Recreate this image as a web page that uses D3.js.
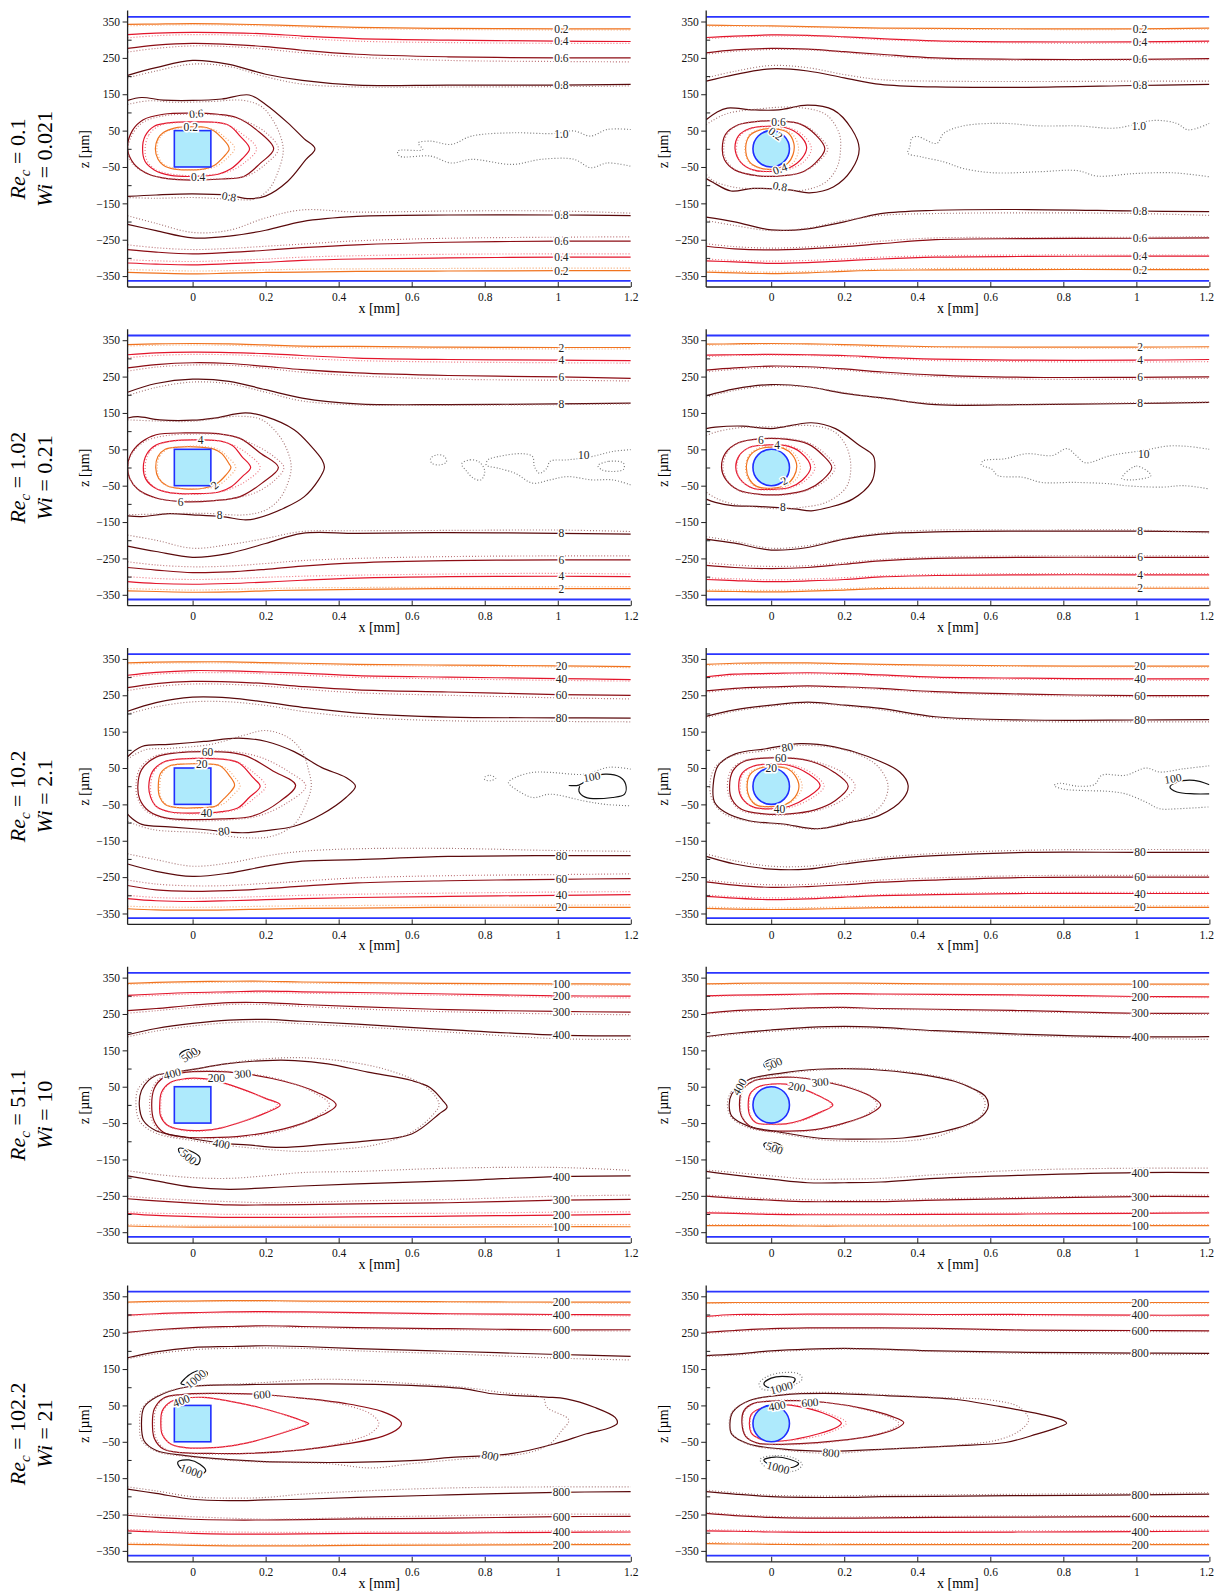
<!DOCTYPE html>
<html><head><meta charset="utf-8">
<script src="https://cdn.jsdelivr.net/npm/d3@7"></script>
<style>
body{margin:0;background:#fff}
text{font-family:"Liberation Serif","Times New Roman",serif}
</style></head>
<body><svg id="c" width="1215" height="1593"></svg>
<script>
// ---------- shared categories / ticks ----------
const xGrid = [-0.178,-0.1,0,0.1,0.2,0.3,0.45,0.7,1.0,1.2];
const xTicks = [0,0.2,0.4,0.6,0.8,1,1.2];
const zTicksLabeled = [350,250,150,50,-50,-150,-250,-350];
const zTicksMinor = [300,200,100,0,-100,-200,-300];
const rowRe = ["0.1","1.02","10.2","51.1","102.2"];
const rowWi = ["0.021","0.21","2.1","10","21"];
const rowLevels = [["0.2","0.4","0.6","0.8"],["2","4","6","8"],["20","40","60","80"],["100","200","300","400"],["200","400","600","800"]];
const wallZ = 363;
const obstacleHalf = [0.05, 50];
const colShape = ["square","circle"];

// ---------- Row 1, left (square) ----------
const r1L_top = [[342,343,344,343,341,338,334,331,330,330],[314,318,320,319,316,310,303,299,296,295],[276,285,290,287,281,271,260,253,250,250],[202,223,243,232,205,188,175,175,175,177]];
const r1L_topDot = [[338,340,341,340,338,335,331,328,327,327],[305,311,314,313,310,304,296,292,290,290],[266,276,283,281,274,264,252,243,240,239],[195,214,233,226,198,178,170,170,171,173]];
const r1L_bot = [[-340,-342,-344,-342,-340,-339,-337,-336,-335,-335],[-314,-317,-319,-316,-312,-307,-303,-300,-298,-298],[-277,-284,-289,-285,-279,-272,-264,-257,-254,-254],[-208,-225,-245,-240,-224,-200,-186,-182,-182,-184]];
const r1L_botDot = [[-332,-334,-336,-335,-333,-331,-330,-329,-328,-328],[-305,-308,-310,-307,-303,-298,-294,-290,-289,-289],[-264,-272,-277,-274,-268,-262,-253,-246,-243,-242],[-184,-205,-230,-224,-190,-168,-174,-171,-171,-177]];
const r1L_rings = [
 [1,1,[[-0.102,0],[-0.095,28],[-0.08,45],[-0.05,57],[0,61],[0.04,58],[0.06,48],[0.08,30],[0.098,8],[0.1,-2],[0.085,-22],[0.06,-45],[0.03,-56],[-0.01,-58],[-0.05,-56],[-0.08,-45],[-0.095,-28]]],
 [2,1,[[-0.137,0],[-0.13,35],[-0.105,62],[-0.06,72],[0,74],[0.06,73],[0.1,64],[0.13,35],[0.156,0],[0.135,-28],[0.105,-55],[0.07,-70],[0,-76],[-0.06,-73],[-0.105,-58],[-0.13,-35]]],
 [3,1,[[-0.178,0],[-0.165,50],[-0.135,80],[-0.08,95],[0,98],[0.07,95],[0.12,86],[0.175,52],[0.222,0],[0.185,-40],[0.14,-76],[0.08,-83],[0,-86],[-0.07,-82],[-0.12,-70],[-0.16,-42]]],
 [4,0,[[-0.178,133],[-0.14,141],[-0.08,134],[0,133],[0.08,137],[0.155,148],[0.2,122],[0.26,72],[0.305,28],[0.335,0],[0.31,-30],[0.26,-90],[0.2,-130],[0.155,-137],[0.1,-128],[0,-124],[-0.1,-127],[-0.178,-131]]]
];
const r1L_ringsDot = [
 [1,1,[[-0.098,0],[-0.09,30],[-0.07,48],[-0.03,58],[0.02,59],[0.06,52],[0.09,30],[0.115,2],[0.09,-30],[0.06,-50],[0.02,-57],[-0.04,-56],[-0.08,-42],[-0.093,-22]]],
 [2,1,[[-0.13,0],[-0.12,38],[-0.09,64],[-0.04,72],[0.03,73],[0.09,68],[0.13,45],[0.175,0],[0.14,-40],[0.1,-62],[0.04,-72],[-0.04,-72],[-0.1,-58],[-0.125,-32]]],
 [3,1,[[-0.178,-5],[-0.16,48],[-0.13,76],[-0.07,92],[0,95],[0.08,92],[0.14,78],[0.2,45],[0.235,0],[0.2,-42],[0.15,-74],[0.08,-82],[0,-84],[-0.08,-80],[-0.13,-66],[-0.165,-40]]],
 [4,0,[[-0.178,122],[-0.12,132],[-0.05,128],[0.05,130],[0.14,133],[0.19,115],[0.225,70],[0.245,20],[0.248,-10],[0.235,-60],[0.21,-110],[0.17,-138],[0.1,-138],[0,-134],[-0.1,-136],[-0.178,-134]]],
 [5,0,[[1.2,53],[1.135,53],[1.09,35],[1.045,49],[0.99,42],[0.876,44],[0.764,35],[0.708,12],[0.652,21],[0.618,16],[0.63,-2],[0.562,-6],[0.567,-20],[0.652,-20],[0.708,-39],[0.764,-29],[0.876,-43],[0.955,-29],[1.045,-29],[1.09,-52],[1.135,-39],[1.2,-48]]]
];
const r1L_labels = [[0.01,97,"0.6",-5],[-0.005,61,"0.2",0],[0.015,-77,"0.4",0],[0.1,-131,"0.8",10],[1.01,42,"1.0",0]];

// ---------- Row 1, right (circle) ----------
const r1R_top = [[340,339,338,336,334,332,331,330,330,332],[306,310,313,312,308,303,297,294,294,296],[264,272,276,274,267,260,250,246,246,248],[186,204,220,214,195,177,170,169,174,177]];
const r1R_topDot = [[337,337,336,334,332,330,329,328,328,329],[303,307,310,310,306,300,295,291,291,292],[260,268,273,272,265,256,247,243,244,245],[195,213,229,223,204,190,186,185,186,186]];
const r1R_bot = [[-339,-341,-343,-341,-337,-334,-333,-332,-332,-332],[-308,-311,-315,-313,-308,-303,-298,-296,-295,-295],[-268,-275,-278,-275,-269,-261,-250,-247,-246,-245],[-188,-201,-223,-220,-201,-178,-169,-167,-171,-173]];
const r1R_botDot = [[-335,-337,-339,-337,-334,-331,-329,-329,-329,-329],[-303,-307,-309,-307,-303,-298,-294,-292,-292,-292],[-261,-269,-273,-270,-263,-254,-245,-244,-243,-242],[-197,-211,-225,-218,-197,-183,-178,-176,-178,-183]];
const r1R_rings = [
 [1,1,[[-0.07,0],[-0.06,35],[-0.03,52],[0.01,55],[0.045,45],[0.062,15],[0.06,-15],[0.045,-40],[0.01,-55],[-0.03,-53],[-0.06,-35]]],
 [2,1,[[-0.099,0],[-0.09,35],[-0.06,55],[-0.01,62],[0.04,58],[0.075,40],[0.097,5],[0.085,-25],[0.05,-52],[0,-62],[-0.05,-58],[-0.085,-35]]],
 [3,1,[[-0.134,0],[-0.125,40],[-0.09,66],[-0.03,76],[0.03,76],[0.08,68],[0.12,40],[0.147,0],[0.12,-40],[0.08,-66],[0.02,-75],[-0.04,-74],[-0.1,-58],[-0.128,-30]]],
 [4,0,[[-0.178,80],[-0.15,100],[-0.12,112],[-0.05,107],[0.02,107],[0.1,120],[0.17,107],[0.22,55],[0.241,0],[0.22,-58],[0.17,-105],[0.105,-121],[0.05,-113],[-0.05,-109],[-0.11,-116],[-0.16,-92],[-0.178,-82]]]
];
const r1R_ringsDot = [
 [1,1,[[-0.072,0],[-0.06,38],[-0.02,56],[0.03,54],[0.06,38],[0.075,0],[0.06,-38],[0.02,-56],[-0.03,-54],[-0.06,-38]]],
 [2,1,[[-0.095,0],[-0.085,36],[-0.05,57],[0,62],[0.05,57],[0.09,35],[0.11,0],[0.09,-35],[0.05,-56],[0,-63],[-0.05,-58],[-0.085,-35]]],
 [3,1,[[-0.13,0],[-0.12,42],[-0.085,67],[-0.02,77],[0.05,75],[0.1,60],[0.135,30],[0.155,0],[0.13,-35],[0.09,-62],[0.03,-74],[-0.04,-74],[-0.1,-56],[-0.125,-28]]],
 [4,0,[[-0.178,66],[-0.16,78],[-0.12,97],[-0.05,108],[0.07,114],[0.15,94],[0.186,43],[0.19,0],[0.181,-49],[0.15,-91],[0.087,-114],[0,-110],[-0.1,-106],[-0.16,-87],[-0.178,-70]]],
 [5,0,[[1.2,70],[1.142,52],[1.11,70],[1.048,78],[0.944,57],[0.839,63],[0.735,63],[0.63,70],[0.526,63],[0.473,43],[0.453,15],[0.4,34],[0.385,29],[0.38,6],[0.374,-12],[0.41,-22],[0.473,-36],[0.526,-54],[0.609,-66],[0.735,-63],[0.839,-60],[0.892,-75],[0.996,-68],[1.1,-66],[1.2,-77]]]
];
const r1R_labels = [[0.02,75,"0.6",0],[0.012,42,"0.2",35],[0.024,-55,"0.4",-20],[0.024,-103,"0.8",10],[1.007,63,"1.0",0]];

// ---------- Row 2, left ----------
const r2L_top = [[338,340,341,340,337,334,333,331,330,330],[310,315,317,316,313,308,301,297,295,294],[274,283,288,286,278,269,260,253,249,245],[207,231,243,237,214,191,175,173,175,177]];
const r2L_topDot = [[334,336,337,336,333,330,329,327,326,326],[302,308,311,310,306,300,294,290,288,287],[265,276,282,281,273,262,252,243,240,238],[198,220,235,230,207,183,172,171,173,175]];
const r2L_bot = [[-339,-341,-343,-342,-339,-337,-335,-333,-333,-333],[-314,-319,-321,-319,-315,-310,-304,-300,-299,-300],[-275,-282,-289,-287,-280,-271,-262,-256,-254,-254],[-216,-231,-247,-236,-209,-181,-181,-179,-181,-183]];
const r2L_botDot = [[-333,-335,-337,-335,-333,-331,-330,-329,-328,-328],[-300,-305,-308,-306,-302,-299,-296,-293,-291,-293],[-259,-268,-273,-271,-264,-256,-250,-245,-243,-243],[-186,-200,-222,-212,-195,-176,-174,-173,-172,-176]];
const r2L_rings = [
 [1,1,[[-0.101,0],[-0.095,30],[-0.075,50],[-0.04,56],[0.02,56],[0.06,50],[0.08,38],[0.1,10],[0.105,0],[0.09,-22],[0.065,-45],[0.03,-57],[-0.03,-58],[-0.07,-50],[-0.093,-30]]],
 [2,1,[[-0.135,0],[-0.125,38],[-0.1,62],[-0.05,74],[0.02,76],[0.08,72],[0.11,60],[0.135,30],[0.159,0],[0.136,-25],[0.107,-52],[0.07,-68],[0,-72],[-0.06,-70],[-0.105,-55],[-0.128,-32]]],
 [3,1,[[-0.178,0],[-0.17,35],[-0.14,70],[-0.1,90],[-0.02,95],[0.07,93],[0.13,80],[0.185,40],[0.235,0],[0.19,-43],[0.13,-80],[0.06,-91],[-0.03,-94],[-0.1,-84],[-0.15,-60],[-0.172,-30]]],
 [4,0,[[-0.178,136],[-0.15,140],[-0.09,131],[0,130],[0.06,136],[0.145,150],[0.2,140],[0.278,104],[0.325,58],[0.355,20],[0.361,0],[0.345,-34],[0.306,-80],[0.25,-112],[0.175,-140],[0.145,-144],[0.08,-135],[0,-130],[-0.065,-127],[-0.14,-135],[-0.178,-133]]]
];
const r2L_ringsDot = [
 [1,1,[[-0.097,0],[-0.09,32],[-0.065,52],[-0.02,58],[0.03,58],[0.07,50],[0.095,30],[0.118,0],[0.095,-30],[0.065,-52],[0.02,-58],[-0.04,-57],[-0.08,-45],[-0.093,-25]]],
 [2,1,[[-0.13,0],[-0.12,40],[-0.09,64],[-0.03,75],[0.04,76],[0.1,66],[0.15,38],[0.185,0],[0.15,-35],[0.1,-60],[0.04,-72],[-0.04,-72],[-0.1,-57],[-0.125,-30]]],
 [3,1,[[-0.178,-5],[-0.165,40],[-0.13,72],[-0.07,88],[0.02,92],[0.1,88],[0.17,62],[0.225,28],[0.25,0],[0.225,-35],[0.17,-70],[0.09,-88],[0,-92],[-0.08,-88],[-0.14,-68],[-0.17,-35]]],
 [4,0,[[-0.178,131],[-0.1,128],[0,127],[0.126,141],[0.19,131],[0.235,90],[0.26,45],[0.27,0],[0.258,-50],[0.235,-90],[0.2,-117],[0.145,-130],[0.03,-126],[-0.1,-128],[-0.178,-130]]],
 [5,0,[[1.2,49],[1.15,44],[1.093,30],[1.027,21],[0.979,17],[0.97,-2],[0.95,-16],[0.936,3],[0.931,30],[0.903,38],[0.837,30],[0.809,21],[0.804,7],[0.837,-2],[0.884,-16],[0.931,-43],[0.979,-34],[1.027,-25],[1.093,-34],[1.15,-34],[1.2,-48]]],
 [5,1,[[0.652,25],[0.67,35],[0.69,30],[0.695,15],[0.675,7],[0.655,12]]],
 [5,1,[[0.737,10],[0.76,21],[0.785,15],[0.8,-10],[0.79,-34],[0.77,-30],[0.75,-10]]],
 [5,1,[[1.11,5],[1.14,17],[1.18,12],[1.18,-5],[1.15,-11],[1.12,-6]]]
];
const r2L_labels = [[0.022,77,"4",0],[0.06,-48,"2",-40],[-0.033,-94,"6",0],[0.074,-131,"8",0],[1.071,35,"10",0]];

// ---------- Row 2, right ----------
const r2R_top = [[339,340,341,340,338,335,332,331,331,332],[309,310,311,310,308,303,298,295,295,297],[268,274,279,277,271,263,254,248,248,249],[197,216,228,222,204,192,173,173,176,179]];
const r2R_topDot = [[336,338,339,338,335,332,330,329,328,329],[305,308,309,308,305,300,294,291,290,291],[263,270,275,274,268,259,250,243,243,245],[193,212,225,221,206,190,176,174,178,180]];
const r2R_bot = [[-340,-341,-342,-340,-337,-333,-332,-332,-332,-332],[-308,-311,-314,-312,-308,-301,-297,-295,-295,-295],[-269,-275,-278,-275,-266,-257,-250,-247,-247,-247],[-197,-208,-227,-220,-197,-183,-177,-175,-175,-177]];
const r2R_botDot = [[-336,-337,-338,-336,-333,-330,-329,-329,-329,-329],[-303,-306,-309,-307,-303,-298,-294,-292,-292,-292],[-262,-268,-272,-270,-262,-253,-246,-243,-243,-243],[-190,-203,-222,-215,-195,-180,-172,-172,-172,-180]];
const r2R_rings = [
 [1,1,[[-0.068,0],[-0.06,30],[-0.035,50],[0,56],[0.035,52],[0.058,35],[0.07,5],[0.062,-25],[0.04,-48],[0,-57],[-0.04,-52],[-0.06,-32]]],
 [2,1,[[-0.097,0],[-0.088,32],[-0.06,55],[-0.01,62],[0.04,60],[0.08,42],[0.108,0],[0.085,-35],[0.05,-55],[0,-60],[-0.05,-57],[-0.085,-32]]],
 [3,1,[[-0.136,0],[-0.125,40],[-0.09,68],[-0.03,79],[0.04,78],[0.1,65],[0.14,35],[0.166,0],[0.14,-35],[0.1,-60],[0.04,-73],[-0.03,-74],[-0.09,-62],[-0.125,-32]]],
 [4,0,[[-0.178,107],[-0.153,111],[-0.078,114],[0,107],[0.11,123],[0.176,107],[0.241,61],[0.279,33],[0.284,0],[0.274,-41],[0.223,-87],[0.157,-110],[0.11,-119],[0.063,-114],[-0.04,-107],[-0.106,-105],[-0.153,-96],[-0.178,-87]]]
];
const r2R_ringsDot = [
 [1,1,[[-0.07,0],[-0.06,35],[-0.03,55],[0.01,58],[0.05,50],[0.07,28],[0.08,0],[0.07,-30],[0.04,-52],[0,-58],[-0.04,-54],[-0.063,-32]]],
 [2,1,[[-0.094,0],[-0.085,35],[-0.055,57],[0,63],[0.05,60],[0.095,38],[0.12,0],[0.095,-35],[0.05,-57],[0,-62],[-0.05,-58],[-0.085,-33]]],
 [3,1,[[-0.132,0],[-0.12,42],[-0.085,69],[-0.02,80],[0.05,79],[0.11,64],[0.15,35],[0.175,0],[0.15,-35],[0.1,-62],[0.04,-75],[-0.03,-75],[-0.09,-63],[-0.122,-33]]],
 [4,0,[[-0.178,88],[-0.15,98],[-0.08,110],[0.02,112],[0.11,115],[0.17,100],[0.205,60],[0.218,0],[0.205,-55],[0.15,-96],[0.08,-110],[0.035,-114],[-0.05,-108],[-0.106,-100],[-0.15,-85],[-0.178,-68]]],
 [5,0,[[1.2,50],[1.14,58],[1.086,59],[1.02,47],[0.93,33],[0.86,13],[0.835,33],[0.81,52],[0.77,33],[0.7,38],[0.64,24],[0.58,18],[0.575,8],[0.605,-5],[0.62,-22],[0.69,-27],[0.74,-41],[0.83,-41],[0.93,-45],[0.97,-50],[1.07,-54],[1.13,-50],[1.2,-59]]],
 [5,1,[[0.96,-30],[1.0,4],[1.04,-22],[0.99,-34]]]
];
const r2R_labels = [[-0.028,77,"6",0],[0.016,63,"4",0],[0.035,-36,"2",-30],[0.032,-108,"8",0],[1.02,38,"10",0]];

// ---------- Row 3, left ----------
const r3L_top = [[339,341,342,342,340,338,335,333,331,329],[305,313,318,317,314,311,304,300,296,293],[271,282,288,287,282,274,265,259,252,250],[206,230,245,243,231,217,201,190,188,187]];
const r3L_topDot = [[336,338,339,339,337,335,332,330,328,326],[300,308,312,312,309,305,299,295,291,289],[263,274,281,280,275,267,257,250,243,240],[198,218,232,232,222,206,190,180,178,177]];
const r3L_bot = [[-337,-340,-341,-340,-338,-336,-335,-333,-333,-333],[-309,-315,-317,-315,-312,-309,-306,-303,-300,-298],[-273,-285,-289,-287,-282,-275,-266,-260,-256,-254],[-214,-234,-248,-239,-220,-206,-202,-193,-191,-191]];
const r3L_botDot = [[-330,-332,-333,-332,-330,-329,-328,-327,-327,-326],[-300,-306,-308,-306,-303,-300,-297,-294,-291,-290],[-258,-269,-274,-273,-267,-261,-252,-246,-243,-241],[-186,-202,-220,-211,-192,-179,-172,-171,-177,-179]];
const r3L_rings = [
 [1,1,[[-0.094,0],[-0.088,35],[-0.065,55],[-0.02,61],[0.04,61],[0.075,56],[0.1,30],[0.115,3],[0.1,-20],[0.085,-35],[0.065,-54],[0.02,-59],[-0.04,-59],[-0.075,-50],[-0.09,-30]]],
 [2,1,[[-0.12,0],[-0.11,40],[-0.08,66],[-0.03,75],[0.05,76],[0.1,72],[0.13,62],[0.165,24],[0.185,0],[0.155,-31],[0.125,-59],[0.08,-70],[0,-74],[-0.06,-71],[-0.1,-55],[-0.115,-30]]],
 [3,1,[[-0.15,0],[-0.14,45],[-0.1,80],[-0.04,92],[0.03,95],[0.1,93],[0.15,82],[0.22,42],[0.282,3],[0.24,-41],[0.165,-82],[0.08,-90],[0,-92],[-0.07,-88],[-0.12,-68],[-0.145,-35]]],
 [4,0,[[-0.178,81],[-0.139,109],[-0.064,115],[0.031,123],[0.126,132],[0.202,123],[0.278,95],[0.354,51],[0.42,24],[0.446,0],[0.42,-31],[0.354,-77],[0.278,-110],[0.202,-122],[0.136,-128],[0.031,-119],[-0.064,-112],[-0.139,-105],[-0.168,-87],[-0.178,-77]]],
 [5,0,[[1.03,2],[1.058,3],[1.09,22],[1.13,33],[1.17,25],[1.186,5],[1.183,-22],[1.15,-31],[1.075,-30],[1.058,-14],[1.06,0]]]
];
const r3L_ringsDot = [
 [1,1,[[-0.09,0],[-0.083,36],[-0.06,56],[-0.01,62],[0.05,61],[0.09,50],[0.115,25],[0.13,0],[0.11,-25],[0.085,-48],[0.04,-59],[-0.03,-60],[-0.07,-52],[-0.087,-30]]],
 [2,1,[[-0.115,0],[-0.105,42],[-0.075,67],[-0.02,76],[0.06,77],[0.12,68],[0.17,35],[0.2,0],[0.17,-32],[0.13,-60],[0.08,-72],[0,-76],[-0.06,-72],[-0.1,-56],[-0.112,-30]]],
 [3,1,[[-0.155,0],[-0.145,48],[-0.105,82],[-0.04,94],[0.04,97],[0.12,94],[0.19,78],[0.26,42],[0.31,0],[0.26,-45],[0.18,-82],[0.09,-93],[0,-95],[-0.07,-90],[-0.125,-70],[-0.15,-35]]],
 [4,0,[[-0.178,75],[-0.13,100],[-0.064,104],[0.05,115],[0.14,140],[0.2,153],[0.26,135],[0.3,95],[0.318,42],[0.325,0],[0.31,-50],[0.278,-105],[0.22,-137],[0.145,-142],[0.03,-128],[-0.11,-119],[-0.178,-97]]],
 [5,0,[[1.2,47],[1.14,52],[1.074,33],[0.979,38],[0.932,38],[0.884,24],[0.865,10],[0.884,-8],[0.932,-31],[0.979,-22],[1.074,-41],[1.131,-50],[1.2,-54]]],
 [5,1,[[0.8,25],[0.815,30],[0.83,22],[0.815,15],[0.8,18]]]
];
const r3L_labels = [[0.041,94,"60",0],[0.025,60,"20",0],[0.038,-74,"40",0],[0.086,-123,"80",-8],[1.093,26,"100",-10]];

// ---------- Row 3, right ----------
const r3R_top = [[335,338,339,339,337,335,333,331,330,330],[301,308,310,312,310,306,300,297,295,295],[262,269,273,276,273,269,260,253,249,249],[192,210,223,231,223,214,191,182,182,183]];
const r3R_topDot = [[332,335,336,336,335,333,331,329,328,327],[298,305,308,309,307,303,297,294,292,291],[258,266,270,273,271,266,257,250,246,246],[188,206,220,228,221,210,188,178,177,177]];
const r3R_bot = [[-336,-338,-339,-338,-336,-334,-333,-333,-333,-333],[-303,-308,-312,-310,-305,-301,-298,-295,-295,-295],[-263,-272,-278,-276,-271,-264,-258,-251,-250,-250],[-193,-214,-228,-228,-214,-202,-191,-182,-182,-182]];
const r3R_botDot = [[-332,-334,-335,-334,-332,-331,-330,-329,-329,-329],[-299,-304,-307,-306,-302,-298,-295,-292,-292,-292],[-258,-266,-271,-270,-264,-258,-252,-246,-245,-245],[-186,-205,-220,-220,-208,-196,-185,-176,-174,-175]];
const r3R_rings = [
 [1,1,[[-0.066,0],[-0.058,32],[-0.03,50],[0.01,54],[0.045,48],[0.065,30],[0.076,0],[0.065,-30],[0.04,-50],[0,-56],[-0.04,-52],[-0.06,-30]]],
 [2,1,[[-0.089,0],[-0.08,35],[-0.05,55],[0,61],[0.05,57],[0.1,35],[0.134,2],[0.1,-30],[0.05,-55],[0,-62],[-0.05,-57],[-0.08,-33]]],
 [3,1,[[-0.114,0],[-0.105,42],[-0.075,68],[-0.02,77],[0.05,77],[0.11,68],[0.17,40],[0.211,0],[0.175,-40],[0.12,-65],[0.05,-76],[-0.02,-76],[-0.08,-64],[-0.108,-35]]],
 [4,1,[[-0.159,2],[-0.145,57],[-0.098,89],[-0.014,103],[0.08,117],[0.173,108],[0.267,81],[0.352,39],[0.375,2],[0.361,-35],[0.295,-81],[0.22,-99],[0.127,-117],[0.033,-104],[-0.061,-95],[-0.127,-71],[-0.155,-44]]],
 [5,0,[[1.2,4],[1.158,16],[1.111,11],[1.092,-2],[1.111,-16],[1.158,-21],[1.2,-21]]]
];
const r3R_ringsDot = [
 [1,1,[[-0.068,0],[-0.06,35],[-0.025,53],[0.02,55],[0.06,42],[0.085,0],[0.06,-40],[0.02,-56],[-0.03,-54],[-0.06,-33]]],
 [2,1,[[-0.085,0],[-0.075,37],[-0.04,57],[0.01,62],[0.07,55],[0.12,30],[0.145,0],[0.115,-30],[0.06,-56],[0,-63],[-0.05,-58],[-0.078,-33]]],
 [3,1,[[-0.12,0],[-0.11,44],[-0.075,70],[-0.01,79],[0.06,78],[0.13,65],[0.2,35],[0.23,0],[0.2,-35],[0.13,-66],[0.05,-78],[-0.02,-78],[-0.085,-65],[-0.112,-35]]],
 [4,1,[[-0.168,0],[-0.155,50],[-0.11,82],[-0.02,97],[0.08,112],[0.2,100],[0.28,65],[0.31,30],[0.32,0],[0.31,-40],[0.27,-80],[0.2,-100],[0.12,-118],[0.03,-106],[-0.06,-97],[-0.13,-75],[-0.16,-40]]],
 [5,0,[[1.2,56],[1.13,48],[1.064,39],[1.027,50],[0.97,30],[0.905,30],[0.886,5],[0.84,0],[0.79,8],[0.775,2],[0.8,-8],[0.86,-12],[0.92,-14],[0.97,-21],[1.027,-44],[1.064,-62],[1.111,-62],[1.2,-57]]]
];
const r3R_labels = [[0.044,108,"80",-10],[0.026,78,"60",0],[0,50,"20",0],[0.023,-62,"40",0],[1.1,21,"100",-10]];

// ---------- Row 4, left ----------
const r4L_top = [[334,337,339,340,340,338,336,334,333,332],[301,305,309,311,313,311,309,305,300,299],[259,265,274,281,281,276,270,262,257,255],[193,210,224,233,235,230,222,207,192,190]];
const r4L_topDot = [[331,334,336,337,337,335,333,331,330,329],[297,301,305,307,309,307,305,301,296,294],[252,259,268,276,276,271,264,256,250,248],[187,203,217,226,228,223,215,200,182,180]];
const r4L_bot = [[-333,-335,-336,-336,-336,-336,-336,-336,-335,-335],[-299,-304,-307,-309,-309,-309,-308,-306,-303,-301],[-258,-264,-270,-275,-275,-274,-272,-269,-262,-260],[-195,-209,-226,-232,-228,-223,-217,-209,-197,-195]];
const r4L_botDot = [[-329,-331,-331,-331,-331,-331,-330,-329,-329,-329],[-294,-298,-299,-301,-301,-301,-299,-298,-295,-294],[-251,-257,-262,-266,-269,-268,-264,-260,-251,-248],[-181,-191,-200,-202,-195,-186,-183,-174,-172,-180]];
const r4L_rings = [
 [2,1,[[-0.09,0],[-0.085,35],[-0.06,62],[-0.02,72],[0.03,72],[0.08,62],[0.14,42],[0.2,18],[0.24,0],[0.2,-22],[0.14,-45],[0.08,-63],[0.03,-70],[-0.03,-68],[-0.07,-55],[-0.088,-30]]],
 [3,1,[[-0.112,0],[-0.105,45],[-0.08,75],[-0.03,88],[0.05,92],[0.14,86],[0.25,65],[0.34,35],[0.393,0],[0.34,-35],[0.25,-66],[0.14,-85],[0.05,-90],[-0.03,-88],[-0.08,-75],[-0.105,-45]]],
 [4,1,[[-0.146,0],[-0.14,40],[-0.12,68],[-0.1,81],[-0.05,90],[0.01,99],[0.09,113],[0.2,122],[0.28,122],[0.37,113],[0.48,90],[0.6,67],[0.65,48],[0.685,12],[0.697,-6],[0.675,-25],[0.6,-80],[0.48,-99],[0.37,-108],[0.24,-117],[0.15,-110],[0.08,-105],[-0.02,-89],[-0.1,-71],[-0.135,-43]]],
 [5,1,[[-0.035,138],[-0.02,150],[0.005,152],[0.02,146],[0.015,137],[-0.005,130],[-0.03,128]]],
 [5,1,[[-0.038,-120],[-0.01,-125],[0.02,-145],[0.015,-163],[-0.005,-160],[-0.03,-140]]]
];
const r4L_ringsDot = [
 [2,1,[[-0.087,0],[-0.082,36],[-0.057,62],[-0.02,70],[0.03,70],[0.08,60],[0.14,40],[0.2,17],[0.232,0],[0.2,-20],[0.14,-44],[0.08,-62],[0.03,-72],[-0.03,-70],[-0.068,-56],[-0.085,-30]]],
 [3,1,[[-0.118,0],[-0.11,46],[-0.085,76],[-0.03,90],[0.05,94],[0.14,88],[0.25,67],[0.33,35],[0.375,0],[0.33,-37],[0.25,-70],[0.14,-88],[0.05,-93],[-0.03,-90],[-0.085,-77],[-0.11,-45]]],
 [4,1,[[-0.155,0],[-0.15,42],[-0.125,70],[-0.1,82],[-0.04,92],[0.05,106],[0.15,122],[0.28,130],[0.4,122],[0.52,100],[0.62,62],[0.66,30],[0.675,0],[0.66,-25],[0.6,-75],[0.5,-110],[0.4,-122],[0.3,-128],[0.2,-122],[0.1,-112],[0,-98],[-0.1,-78],[-0.145,-45]]]
];
const r4L_labels = [[-0.009,138,"500",-35],[-0.011,-143,"500",40],[-0.056,86,"400",-15],[0.065,74,"200",0],[0.137,86,"300",-5],[0.079,-107,"400",10]];

// ---------- Row 4, right ----------
const r4R_top = [[333,334,335,335,335,334,333,332,332,332],[300,302,303,305,306,305,304,302,298,297],[252,259,263,267,268,265,263,259,252,252],[188,197,206,213,216,213,204,194,187,188]];
const r4R_topDot = [[331,332,333,333,333,332,331,330,330,330],[298,300,301,303,304,303,302,300,296,295],[250,256,261,265,266,263,261,256,250,249],[186,194,202,209,212,210,202,190,183,180]];
const r4R_bot = [[-332,-332,-332,-333,-333,-333,-333,-332,-332,-332],[-297,-298,-301,-302,-302,-302,-301,-300,-298,-297],[-251,-257,-262,-266,-266,-266,-262,-257,-252,-252],[-183,-193,-204,-214,-214,-212,-202,-193,-186,-186]];
const r4R_botDot = [[-329,-329,-329,-330,-330,-330,-330,-329,-329,-329],[-294,-296,-298,-299,-299,-299,-298,-297,-296,-295],[-248,-252,-258,-261,-263,-261,-258,-254,-249,-248],[-179,-186,-195,-204,-204,-202,-192,-179,-174,-174]];
const r4R_rings = [
 [2,1,[[-0.063,0],[-0.058,30],[-0.035,50],[0,57],[0.04,57],[0.08,46],[0.13,25],[0.169,0],[0.13,-22],[0.08,-43],[0.04,-52],[0,-53],[-0.04,-50],[-0.058,-30]]],
 [3,1,[[-0.087,0],[-0.08,40],[-0.05,65],[0,74],[0.06,76],[0.14,65],[0.22,45],[0.27,25],[0.3,0],[0.27,-25],[0.2,-50],[0.12,-68],[0.05,-72],[-0.02,-70],[-0.06,-57],[-0.082,-30]]],
 [4,1,[[-0.115,0],[-0.108,30],[-0.087,50],[-0.061,70],[0.033,88],[0.127,98],[0.267,98],[0.408,84],[0.502,65],[0.558,42],[0.586,24],[0.595,0],[0.586,-22],[0.548,-50],[0.455,-77],[0.361,-91],[0.22,-94],[0.127,-91],[0.014,-73],[-0.061,-59],[-0.108,-31]]],
 [5,1,[[-0.02,110],[-0.01,122],[0.01,126],[0.03,121],[0.025,112],[0.005,104],[-0.015,103]]],
 [5,1,[[-0.02,-108],[0,-103],[0.025,-110],[0.033,-122],[0.015,-130],[-0.01,-125]]]
];
const r4R_ringsDot = [
 [2,1,[[-0.06,0],[-0.055,32],[-0.03,51],[0,56],[0.045,55],[0.09,42],[0.14,20],[0.165,0],[0.13,-24],[0.08,-45],[0.04,-53],[0,-54],[-0.04,-50],[-0.056,-30]]],
 [3,1,[[-0.084,0],[-0.077,41],[-0.047,66],[0,75],[0.06,77],[0.14,67],[0.22,47],[0.27,25],[0.29,0],[0.26,-27],[0.2,-52],[0.12,-70],[0.05,-74],[-0.02,-71],[-0.06,-58],[-0.08,-30]]],
 [4,1,[[-0.12,0],[-0.11,35],[-0.07,65],[0.03,85],[0.13,96],[0.27,100],[0.41,86],[0.5,68],[0.56,40],[0.585,10],[0.58,-20],[0.56,-45],[0.5,-70],[0.45,-88],[0.36,-100],[0.22,-100],[0.13,-95],[0.01,-76],[-0.065,-62],[-0.11,-33]]]
];
const r4R_labels = [[0.007,113,"500",-25],[0.009,-119,"500",20],[-0.087,50,"400",-60],[0.07,50,"200",10],[0.134,63,"300",-5]];

// ---------- Row 5, left ----------
const r5L_top = [[334,336,337,338,338,337,336,335,334,334],[298,302,305,307,308,307,305,302,300,299],[251,258,264,267,269,267,264,261,258,258],[181,197,209,212,214,212,206,199,190,185]];
const r5L_topDot = [[332,334,335,336,336,335,334,333,332,331],[296,300,303,305,305,305,303,300,297,296],[249,256,261,264,266,264,261,258,255,255],[178,192,203,207,208,207,200,192,180,175]];
const r5L_bot = [[-332,-333,-335,-336,-336,-336,-335,-334,-333,-333],[-295,-298,-302,-304,-304,-303,-302,-301,-299,-298],[-252,-258,-263,-265,-265,-264,-262,-260,-256,-255],[-180,-192,-208,-212,-210,-208,-203,-196,-189,-187]];
const r5L_botDot = [[-328,-330,-332,-333,-333,-333,-332,-331,-330,-330],[-291,-294,-297,-298,-299,-299,-298,-297,-295,-294],[-247,-251,-256,-260,-263,-262,-258,-253,-249,-249],[-174,-185,-201,-205,-203,-194,-186,-177,-174,-174]];
const r5L_rings = [
 [2,1,[[-0.087,0],[-0.083,35],[-0.06,60],[-0.02,70],[0.03,72],[0.1,62],[0.18,45],[0.26,22],[0.3,8],[0.318,0],[0.3,-8],[0.24,-28],[0.17,-48],[0.1,-62],[0.04,-67],[-0.02,-66],[-0.06,-56],[-0.083,-30]]],
 [3,1,[[-0.11,0],[-0.105,40],[-0.08,70],[-0.03,80],[0.05,83],[0.19,80],[0.3,70],[0.42,55],[0.52,33],[0.565,10],[0.572,0],[0.565,-12],[0.52,-35],[0.42,-56],[0.3,-72],[0.15,-82],[0.05,-82],[-0.03,-80],[-0.08,-70],[-0.105,-40]]],
 [4,1,[[-0.14,0],[-0.133,45],[-0.099,73],[-0.02,100],[0.148,107],[0.372,109],[0.597,105],[0.742,96],[0.821,82],[0.967,73],[1.023,68],[1.1,45],[1.157,17],[1.163,1],[1.146,-10],[1.079,-28],[0.99,-56],[0.877,-82],[0.709,-93],[0.597,-102],[0.372,-107],[0.148,-102],[-0.02,-88],[-0.099,-74],[-0.133,-47]]],
 [5,1,[[-0.032,110],[-0.02,125],[0,140],[0.02,146],[0.04,140],[0.035,128],[0.01,118],[-0.015,108]]],
 [5,1,[[-0.04,-105],[-0.01,-100],[0.02,-112],[0.036,-130],[0.02,-140],[-0.01,-133],[-0.035,-120]]]
];
const r5L_ringsDot = [
 [2,1,[[-0.085,0],[-0.08,36],[-0.057,60],[-0.015,70],[0.04,71],[0.11,60],[0.19,42],[0.27,18],[0.31,0],[0.27,-16],[0.2,-40],[0.12,-58],[0.05,-67],[-0.02,-67],[-0.06,-56],[-0.081,-30]]],
 [3,1,[[-0.105,0],[-0.1,42],[-0.075,70],[-0.02,79],[0.06,82],[0.2,78],[0.33,66],[0.43,48],[0.49,25],[0.51,0],[0.49,-25],[0.43,-48],[0.33,-68],[0.2,-80],[0.06,-84],[-0.02,-81],[-0.075,-70],[-0.1,-40]]],
 [4,1,[[-0.145,0],[-0.14,40],[-0.1,75],[-0.02,100],[0.15,110],[0.37,122],[0.6,110],[0.74,100],[0.85,85],[0.96,70],[0.97,45],[1.03,10],[1.01,-20],[0.98,-55],[0.92,-80],[0.8,-92],[0.6,-110],[0.49,-122],[0.37,-110],[0.15,-104],[-0.02,-90],[-0.1,-76],[-0.14,-45]]]
];
const r5L_labels = [[-0.031,63,"400",-20],[0.19,80,"600",-5],[0.815,-88,"800",10],[0.008,123,"1000",-40],[-0.003,-130,"1000",20]];

// ---------- Row 5, right ----------
const r5R_top = [[332,333,333,333,333,333,333,333,333,333],[295,300,300,301,301,301,300,300,298,298],[251,256,261,263,263,263,262,257,256,255],[187,191,200,205,207,205,200,196,194,193]];
const r5R_topDot = [[330,331,331,331,331,331,331,331,331,331],[293,297,298,299,299,299,298,297,296,296],[248,253,258,261,261,261,260,255,253,253],[185,188,197,202,205,203,198,193,190,190]];
const r5R_bot = [[-330,-331,-332,-333,-333,-333,-333,-333,-333,-333],[-295,-296,-298,-299,-299,-299,-299,-298,-297,-296],[-247,-253,-258,-260,-260,-259,-258,-257,-256,-256],[-187,-194,-201,-203,-203,-201,-200,-198,-196,-194]];
const r5R_botDot = [[-327,-328,-329,-330,-330,-330,-330,-330,-330,-330],[-292,-293,-295,-296,-296,-296,-296,-295,-294,-293],[-244,-250,-255,-257,-257,-256,-255,-254,-253,-253],[-183,-190,-197,-199,-199,-197,-196,-194,-192,-190]];
const r5R_rings = [
 [2,1,[[-0.055,-25],[-0.055,25],[-0.02,45],[0.03,52],[0.08,46],[0.14,30],[0.19,5],[0.192,0],[0.18,-10],[0.13,-28],[0.07,-42],[0.02,-48],[-0.03,-42]]],
 [3,1,[[-0.08,0],[-0.075,35],[-0.05,55],[0,62],[0.07,63],[0.15,58],[0.25,42],[0.33,20],[0.363,3],[0.34,-15],[0.27,-35],[0.17,-48],[0.08,-55],[0.01,-57],[-0.04,-53],[-0.07,-35]]],
 [4,1,[[-0.113,0],[-0.105,32],[-0.061,63],[0.033,79],[0.145,83],[0.314,77],[0.502,67],[0.614,49],[0.736,26],[0.802,8],[0.809,1],[0.783,-11],[0.727,-29],[0.642,-52],[0.502,-61],[0.314,-70],[0.164,-76],[0.033,-70],[-0.061,-56],[-0.108,-29]]],
 [5,1,[[-0.02,110],[0,125],[0.03,130],[0.065,124],[0.06,112],[0.03,102],[-0.01,100]]],
 [5,1,[[-0.02,-100],[0.01,-92],[0.05,-98],[0.075,-110],[0.06,-120],[0.02,-118],[-0.01,-110]]]
];
const r5R_ringsDot = [
 [2,1,[[-0.053,-25],[-0.053,25],[-0.02,46],[0.03,53],[0.09,47],[0.15,30],[0.206,2],[0.15,-28],[0.08,-43],[0.02,-49],[-0.03,-43]]],
 [3,1,[[-0.078,0],[-0.072,36],[-0.045,56],[0,63],[0.07,64],[0.15,58],[0.25,40],[0.33,15],[0.35,0],[0.33,-15],[0.26,-36],[0.17,-50],[0.08,-57],[0.01,-58],[-0.04,-54],[-0.068,-35]]],
 [4,1,[[-0.115,0],[-0.105,35],[-0.06,62],[0.03,80],[0.14,86],[0.3,80],[0.45,72],[0.6,65],[0.68,45],[0.705,10],[0.68,-20],[0.62,-45],[0.5,-60],[0.32,-70],[0.16,-82],[0.03,-72],[-0.06,-58],[-0.105,-30]]],
 [5,1,[[-0.033,110],[-0.01,130],[0.03,140],[0.075,137],[0.085,123],[0.06,105],[0.02,94],[-0.025,95]]],
 [5,1,[[-0.03,-98],[0.01,-88],[0.06,-94],[0.085,-112],[0.07,-128],[0.02,-132],[-0.015,-120]]]
];
const r5R_labels = [[0.016,49,"400",-10],[0.106,58,"600",-5],[0.164,-80,"800",5],[0.028,99,"1000",-15],[0.019,-121,"1000",15]];

// ---------- assemble ----------
const panels = [
 {top:r1L_top,topDot:r1L_topDot,bot:r1L_bot,botDot:r1L_botDot,rings:r1L_rings,ringsDot:r1L_ringsDot,labels:r1L_labels},
 {top:r1R_top,topDot:r1R_topDot,bot:r1R_bot,botDot:r1R_botDot,rings:r1R_rings,ringsDot:r1R_ringsDot,labels:r1R_labels},
 {top:r2L_top,topDot:r2L_topDot,bot:r2L_bot,botDot:r2L_botDot,rings:r2L_rings,ringsDot:r2L_ringsDot,labels:r2L_labels},
 {top:r2R_top,topDot:r2R_topDot,bot:r2R_bot,botDot:r2R_botDot,rings:r2R_rings,ringsDot:r2R_ringsDot,labels:r2R_labels},
 {top:r3L_top,topDot:r3L_topDot,bot:r3L_bot,botDot:r3L_botDot,rings:r3L_rings,ringsDot:r3L_ringsDot,labels:r3L_labels},
 {top:r3R_top,topDot:r3R_topDot,bot:r3R_bot,botDot:r3R_botDot,rings:r3R_rings,ringsDot:r3R_ringsDot,labels:r3R_labels},
 {top:r4L_top,topDot:r4L_topDot,bot:r4L_bot,botDot:r4L_botDot,rings:r4L_rings,ringsDot:r4L_ringsDot,labels:r4L_labels},
 {top:r4R_top,topDot:r4R_topDot,bot:r4R_bot,botDot:r4R_botDot,rings:r4R_rings,ringsDot:r4R_ringsDot,labels:r4R_labels},
 {top:r5L_top,topDot:r5L_topDot,bot:r5L_bot,botDot:r5L_botDot,rings:r5L_rings,ringsDot:r5L_ringsDot,labels:r5L_labels},
 {top:r5R_top,topDot:r5R_topDot,bot:r5R_bot,botDot:r5R_botDot,rings:r5R_rings,ringsDot:r5R_ringsDot,labels:r5R_labels}
];

// ---------- styles ----------
const solidColor = ["#f0731f","#e3152b","#8c0d14","#5a0a0c","#111111"];
const dotColor   = ["#f4a56f","#ef7680","#bd7378","#a67676","#7a7a7a"];
const colLeft = [127.6, 706.2], plotW = 503.2;
const rowH = 318.7, plotTop = 10.6, plotH = 276.4;
const labelX = 1.01;

const svg = d3.select("#c");
const defs = svg.append("defs");
const fontLab = "11.5px";

panels.forEach((p, i) => {
  const row = Math.floor(i / 2), col = i % 2;
  const R = row * rowH;
  const x = d3.scaleLinear().domain([-0.178, 1.2]).range([colLeft[col], colLeft[col] + plotW]);
  const y = d3.scaleLinear().domain([-380, 380]).range([R + plotTop + plotH, R + plotTop]);
  const cid = "clip" + i;
  defs.append("clipPath").attr("id", cid).append("rect")
    .attr("x", x.range()[0]).attr("y", y.range()[1]).attr("width", plotW).attr("height", plotH);
  const g = svg.append("g").attr("clip-path", `url(#${cid})`);

  const lineOpen = d3.line().x(d => x(d[0])).y(d => y(d[1])).curve(d3.curveCatmullRom.alpha(0.5));
  const lineClosed = d3.line().x(d => x(d[0])).y(d => y(d[1])).curve(d3.curveCatmullRomClosed.alpha(0.5));

  // walls
  [wallZ, -wallZ].forEach(z => g.append("line")
    .attr("x1", x.range()[0]).attr("x2", x.range()[1]).attr("y1", y(z)).attr("y2", y(z))
    .attr("stroke", "#2a35ff").attr("stroke-width", 1.8));

  const drawH = (sets, dotted) => sets.forEach((zs, li) => {
    g.append("path").attr("d", lineOpen(xGrid.map((xv, k) => [xv, zs[k]])))
      .attr("fill", "none")
      .attr("stroke", dotted ? dotColor[li] : solidColor[li])
      .attr("stroke-width", dotted ? 1.15 : 1.2)
      .attr("stroke-dasharray", dotted ? "1 2" : null);
  });
  drawH(p.top, false); drawH(p.bot, false);

  const drawRings = (rings, dotted) => rings.forEach(([lev, closed, pts]) => {
    g.append("path").attr("d", (closed ? lineClosed : lineOpen)(pts))
      .attr("fill", "none")
      .attr("stroke", dotted ? dotColor[lev - 1] : solidColor[lev - 1])
      .attr("stroke-width", dotted ? 1.15 : 1.2)
      .attr("stroke-dasharray", dotted ? "1 2" : null);
  });
  drawRings(p.rings, false);
  drawH(p.topDot, true); drawH(p.botDot, true);
  drawRings(p.ringsDot, true);

  // obstacle
  if (colShape[col] === "square") {
    g.append("rect").attr("x", x(-obstacleHalf[0])).attr("y", y(obstacleHalf[1]))
      .attr("width", x(obstacleHalf[0]) - x(-obstacleHalf[0])).attr("height", y(-obstacleHalf[1]) - y(obstacleHalf[1]))
      .attr("fill", "#aeeafc").attr("stroke", "#2030ff").attr("stroke-width", 1.6);
  } else {
    g.append("ellipse").attr("cx", x(0)).attr("cy", y(0))
      .attr("rx", x(obstacleHalf[0]) - x(0)).attr("ry", y(0) - y(obstacleHalf[1]))
      .attr("fill", "#aeeafc").attr("stroke", "#2030ff").attr("stroke-width", 1.6);
  }

  // labels on contours
  const levels = rowLevels[row];
  const addLabel = (lx, lz, txt, ang) => {
    svg.append("text").attr("transform", `translate(${x(lx)},${y(lz)}) rotate(${ang})`)
      .attr("text-anchor", "middle").attr("dy", "0.35em")
      .attr("font-size", fontLab).attr("fill", "#222")
      .attr("stroke", "#fff").attr("stroke-width", 3).attr("paint-order", "stroke")
      .text(txt);
  };
  [p.top, p.bot].forEach(set => set.forEach((zs, li) => {
    const zAt = d3.scaleLinear().domain(xGrid).range(zs)(labelX);
    addLabel(labelX, zAt, levels[li], 0);
  }));
  p.labels.forEach(([lx, lz, txt, ang]) => addLabel(lx, lz, txt, ang));

  // axes
  const yAxisMajor = svg.append("g").attr("transform", `translate(${x.range()[0]},0)`)
    .call(d3.axisLeft(y).tickValues(zTicksLabeled).tickSize(5).tickPadding(2.5).tickSizeOuter(0)
      .tickFormat(d => d < 0 ? "\u2212" + Math.abs(d) : String(d)));
  yAxisMajor.select(".domain").remove();
  const yAxisMinor = svg.append("g").attr("transform", `translate(${x.range()[0]},0)`)
    .call(d3.axisLeft(y).tickValues(zTicksMinor).tickSize(-4).tickFormat("").tickSizeOuter(0));
  yAxisMinor.select(".domain").remove();
  const xAxis = svg.append("g").attr("transform", `translate(0,${y.range()[0]})`)
    .call(d3.axisBottom(x).tickValues(xTicks).tickSize(-5).tickPadding(6).tickSizeOuter(0)
      .tickFormat(d => d3.format("~g")(d)));
  xAxis.select(".domain").remove();
  if (col === 1) {
    xAxis.selectAll(".tick").filter(d => d === 1.2).select("text")
      .attr("text-anchor", "end").attr("x", 4);
  }
  [yAxisMajor, yAxisMinor, xAxis].forEach(a => {
    a.selectAll("text").attr("font-family", "Liberation Serif, Times New Roman, serif").attr("font-size", "11.5px").attr("fill", "#111");
    a.selectAll("line").attr("stroke", "#222");
  });
  svg.append("line").attr("x1", x.range()[0]).attr("x2", x.range()[0])
    .attr("y1", y.range()[1]).attr("y2", y.range()[0]).attr("stroke", "#222").attr("stroke-width", 1.3);
  svg.append("line").attr("x1", x.range()[0]).attr("x2", x.range()[1])
    .attr("y1", y.range()[0]).attr("y2", y.range()[0]).attr("stroke", "#222").attr("stroke-width", 1.3);

  // axis titles
  svg.append("text").attr("x", (x.range()[0] + x.range()[1]) / 2).attr("y", R + 313)
    .attr("text-anchor", "middle").attr("font-size", "14px").text("x [mm]");
  svg.append("text").attr("transform", `translate(${x.range()[0] - 38.5},${R + 149}) rotate(-90)`)
    .attr("text-anchor", "middle").attr("font-size", "14px").text("z [\u00b5m]");
});

// row titles
rowRe.forEach((re, r) => {
  const cy = r * rowH + 159;
  const t1 = svg.append("text").attr("transform", `translate(25,${cy}) rotate(-90)`)
    .attr("text-anchor", "middle").attr("font-size", "22px");
  t1.append("tspan").attr("font-style", "italic").text("Re");
  t1.append("tspan").attr("font-style", "italic").attr("font-size", "15px").attr("dy", 5).text("c");
  t1.append("tspan").attr("dy", -5).text(" = " + re);
  const t2 = svg.append("text").attr("transform", `translate(51.5,${cy}) rotate(-90)`)
    .attr("text-anchor", "middle").attr("font-size", "22px");
  t2.append("tspan").attr("font-style", "italic").text("Wi");
  t2.append("tspan").text(" = " + rowWi[r]);
});
</script>
</body></html>
